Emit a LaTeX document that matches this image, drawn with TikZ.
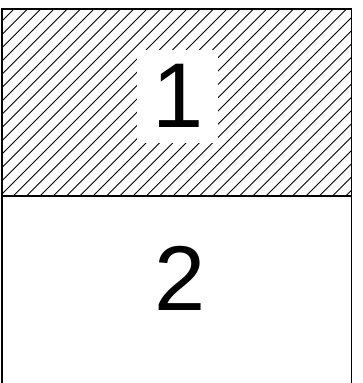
\documentclass[tikz,border=0pt]{standalone}
\usepackage{fontspec}
\setmainfont{Liberation Sans}
\begin{document}
\begin{tikzpicture}[x=1pt,y=1pt,
  frame/.style={draw=black,line width=1.2pt},
  hatch/.style={line width=0.9pt},
  digit/.style={inner sep=0pt,font=\fontsize{92}{92}\selectfont},
  whitebox/.style={fill=white,draw=none,minimum width=81pt,minimum height=93pt}]
\useasboundingbox (0,0) rectangle (362,383);
% hatched top area
\begin{scope}
  \clip (2,187) rectangle (351.5,374);
  \foreach \i in {-20,...,30}{
    \draw[hatch] ({\i*13.3},187) -- ++(190,190);
  }
\end{scope}
\node[whitebox] (box1) at (177.5,286.5) {};
\node[digit] (n1) at (178,287) {1};
\node[digit] (n2) at (180,105) {2};
% frame
\draw[frame] (2,0) -- (2,374) -- (351.5,374) -- (351.5,0);
\draw[frame] (2,187) -- (351.5,187);
\end{tikzpicture}
\end{document}
